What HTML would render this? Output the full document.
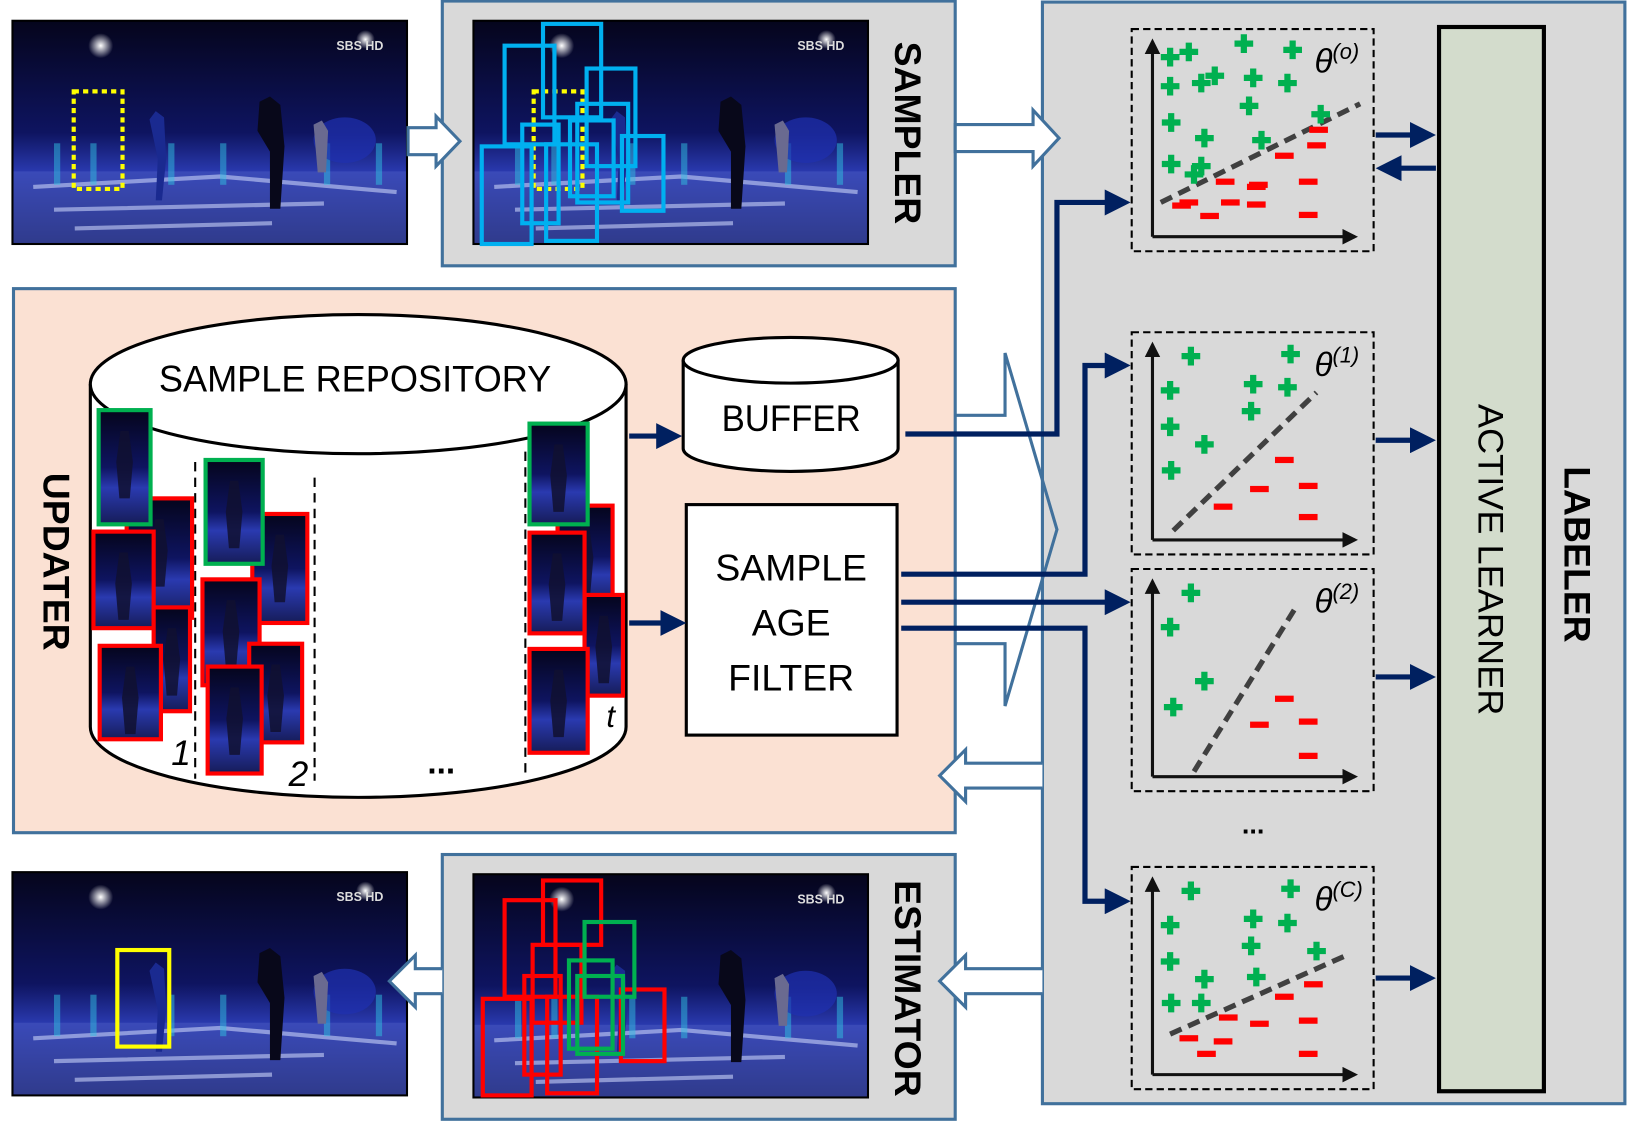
<!DOCTYPE html>
<html><head><meta charset="utf-8"><style>
html,body{margin:0;padding:0;background:#fff;}
svg{display:block;}
text{font-family:"Liberation Sans",sans-serif;}
</style></head><body>
<svg id="fig" width="1628" height="1139" viewBox="0 0 1568 1097" preserveAspectRatio="none" xmlns="http://www.w3.org/2000/svg">
<defs>
<linearGradient id="sky" x1="0" y1="0" x2="0" y2="1">
<stop offset="0" stop-color="#05051c"/><stop offset="0.5" stop-color="#0e1460"/><stop offset="0.68" stop-color="#2a3ab0"/><stop offset="1" stop-color="#161c58"/>
</linearGradient>
<radialGradient id="glow" cx="0.5" cy="0.5" r="0.5"><stop offset="0" stop-color="#ffffff"/><stop offset="1" stop-color="#ffffff" stop-opacity="0"/></radialGradient>
<marker id="ah" markerWidth="5" markerHeight="5" refX="4" refY="2.5" orient="auto" markerUnits="strokeWidth"><path d="M0,0 L5,2.5 L0,5 z" fill="#002060"/></marker>
<marker id="axh" markerWidth="5" markerHeight="5" refX="4" refY="2.5" orient="auto" markerUnits="strokeWidth"><path d="M0,0 L5,2.5 L0,5 z" fill="#111"/></marker>
</defs>

<rect x="1004" y="2" width="561" height="1061" fill="#d9d9d9" stroke="#41719c" stroke-width="3"/>
<rect x="426" y="1" width="494" height="255" fill="#d9d9d9" stroke="#41719c" stroke-width="3"/>
<rect x="426" y="823" width="494" height="255" fill="#d9d9d9" stroke="#41719c" stroke-width="3"/>
<rect x="13" y="278" width="907" height="524" fill="#fbe1d3" stroke="#41719c" stroke-width="3"/>

<g id="photos"></g>

<path d="M393,123 H420 V112 L443,136 L420,160 V149 H393 Z" fill="#fff" stroke="#41719c" stroke-width="3"/>
<path d="M920,120 H995 V106 L1020,133 L995,160 V146 H920 Z" fill="#fff" stroke="#41719c" stroke-width="3"/>
<path d="M920,400 H968 V340 L1018,510 L968,680 V620 H920" fill="none" stroke="#41719c" stroke-width="3"/>
<path d="M1004,735 H930 V722 L905,747 L930,772 V759 H1004" fill="#fff" stroke="#41719c" stroke-width="3"/>
<path d="M1004,933 H930 V920 L905,945 L930,970 V957 H1004" fill="#fff" stroke="#41719c" stroke-width="3"/>
<path d="M426,933 H400 V920 L375,945 L400,970 V957 H426" fill="#fff" stroke="#41719c" stroke-width="3"/>

<text transform="translate(862,128) rotate(90)" text-anchor="middle" font-size="36" font-weight="bold">SAMPLER</text>
<text transform="translate(862,952) rotate(90)" text-anchor="middle" font-size="36" font-weight="bold">ESTIMATOR</text>
<text transform="translate(42,541) rotate(90)" text-anchor="middle" font-size="36" font-weight="bold">UPDATER</text>
<text transform="translate(1507,534) rotate(90)" text-anchor="middle" font-size="36" font-weight="bold">LABELER</text>

<rect x="1386" y="26" width="101" height="1025" fill="#d3dccc" stroke="#000" stroke-width="4"/>
<text transform="translate(1424,539) rotate(90)" text-anchor="middle" font-size="34" textLength="300" lengthAdjust="spacingAndGlyphs">ACTIVE LEARNER</text>

<g>
<path d="M87,370 V700 A258,68 0 0 0 603,700 V370" fill="#fff" stroke="#000" stroke-width="3"/>
<ellipse cx="345" cy="370" rx="258" ry="67" fill="#fff" stroke="#000" stroke-width="3"/>
<text x="342" y="377" text-anchor="middle" font-size="36" textLength="378" lengthAdjust="spacingAndGlyphs">SAMPLE REPOSITORY</text>
<line x1="188" y1="445" x2="188" y2="750" stroke="#000" stroke-width="2" stroke-dasharray="9,6"/>
<line x1="303" y1="460" x2="303" y2="752" stroke="#000" stroke-width="2" stroke-dasharray="9,6"/>
<line x1="506" y1="435" x2="506" y2="745" stroke="#000" stroke-width="2" stroke-dasharray="9,6"/>
<g id="thumbs"></g>
<text x="165" y="737" font-size="34" font-style="italic" font-family="Liberation Serif">1</text>
<text x="278" y="757" font-size="34" font-style="italic" font-family="Liberation Serif">2</text>
<text x="584" y="700" font-size="30" font-style="italic" font-family="Liberation Serif">t</text>
<text x="425" y="745" text-anchor="middle" font-size="32" font-weight="bold">...</text>
</g>

<g>
<path d="M658,347 V432 A103.5,22 0 0 0 865,432 V347" fill="#fff" stroke="#000" stroke-width="3"/>
<ellipse cx="761.5" cy="347" rx="103.5" ry="22" fill="#fff" stroke="#000" stroke-width="3"/>
<text x="762" y="415" text-anchor="middle" font-size="36" textLength="134" lengthAdjust="spacingAndGlyphs">BUFFER</text>
</g>
<rect x="661" y="486" width="203" height="222" fill="#fff" stroke="#000" stroke-width="3"/>
<text x="762" y="559" text-anchor="middle" font-size="36" textLength="146" lengthAdjust="spacingAndGlyphs">SAMPLE</text>
<text x="762" y="612" text-anchor="middle" font-size="36">AGE</text>
<text x="762" y="665" text-anchor="middle" font-size="36">FILTER</text>

<g stroke="#002060" stroke-width="5" fill="none">
<path d="M606,420 H652" marker-end="url(#ah)"/>
<path d="M606,600 H656" marker-end="url(#ah)"/>
<path d="M872,418 H1018 V195 H1084" marker-end="url(#ah)"/>
<path d="M868,553 H1045 V352 H1084" marker-end="url(#ah)"/>
<path d="M868,580 H1084" marker-end="url(#ah)"/>
<path d="M868,605 H1045 V868 H1084" marker-end="url(#ah)"/>
<path d="M1325,130 H1378" marker-end="url(#ah)"/>
<path d="M1383,162 H1330" marker-end="url(#ah)"/>
<path d="M1325,424 H1378" marker-end="url(#ah)"/>
<path d="M1325,652 H1378" marker-end="url(#ah)"/>
<path d="M1325,942 H1378" marker-end="url(#ah)"/>
</g>
<text x="1207" y="803" text-anchor="middle" font-size="26" font-weight="bold">...</text>

<g id="plots"></g>
</svg>
<script>
const plotTops = [28, 320, 548, 835];
const plotLabels = ["o", "1", "2", "C"];
const plus0 = [[17,173],[35,178],[88,186],[135,180],[17,145],[47,148],[60,155],[97,153],[130,148],[93,126],[18,110],[50,95],[105,93],[162,118],[18,70],[47,68],[40,60]];
const minus0 = [[160,103],[158,88],[127,78],[102,50],[70,53],[35,33],[28,30],[55,20],[100,48],[150,53],[100,31],[150,21],[75,33]];
const line0 = [[8,33],[200,128]];
const plus1 = [[37,177],[133,179],[17,144],[97,150],[130,147],[95,124],[17,109],[50,92],[18,67]];
const minus1 = [[127,77],[150,52],[103,49],[68,32],[150,22]];
const line1 = [[20,9],[158,142]];
const plus2 = [[37,177],[17,144],[50,92],[20,67]];
const minus2 = [[127,75],[150,53],[103,50],[150,20]];
const line2 = [[40,5],[138,163]];
const plus3 = [[37,177],[133,179],[17,144],[97,150],[130,146],[95,124],[17,109],[50,92],[100,94],[158,119],[18,69],[47,69]];
const minus3 = [[155,87],[127,75],[150,52],[103,49],[73,55],[35,35],[68,32],[52,20],[150,20]];
const line3 = [[17,39],[187,115]];
const plusSets = [plus0, plus1, plus2, plus3];
const minusSets = [minus0, minus1, minus2, minus3];
const lineSets = [line0, line1, line2, line3];

const NS = "http://www.w3.org/2000/svg";
function mk(tag, attrs, parent) {
  const e = document.createElementNS(NS, tag);
  for (const k in attrs) e.setAttribute(k, attrs[k]);
  parent.appendChild(e);
  return e;
}
const plots = document.getElementById("plots");
plotTops.forEach((T, i) => {
  const ox = 1110, oy = T + 200;
  const sx = v => ox + v;
  const sy = v => oy - v;
  const g = mk("g", {}, plots);
  
  
  const frame = mk("rect", {x:1090, y:T, width:233, height:214, fill:"none", stroke:"#000", "stroke-width":2, "stroke-dasharray":"7,4"}, g);
  
  
  const ax = mk("path", {d:`M${ox},${oy} H1305`, stroke:"#111", "stroke-width":3, fill:"none", "marker-end":"url(#axh)"}, g);
  
  
  const ay = mk("path", {d:`M${ox},${oy} V${T+12}`, stroke:"#111", "stroke-width":3, fill:"none", "marker-end":"url(#axh)"}, g);
  
  
  const L = lineSets[i];
  const dl = mk("line", {x1:sx(L[0][0]), y1:sy(L[0][1]), x2:sx(L[1][0]), y2:sy(L[1][1]), stroke:"#404040", "stroke-width":5, "stroke-dasharray":"12,7"}, g);
  
  
  minusSets[i].forEach(p => {
    const m = mk("rect", {x:sx(p[0])-9, y:sy(p[1])-3, width:18, height:6, fill:"#ff0000"}, g);
    
    
  });
  plusSets[i].forEach(p => {
    const x = sx(p[0]), y = sy(p[1]);
    const pl = mk("path", {d:`M${x-9},${y} H${x+9} M${x},${y-9} V${y+9}`, stroke:"#00b050", "stroke-width":6}, g);
    
    
  });
  const t = mk("text", {x:1266, y:T+42, "font-size":32, "font-style":"italic", "font-family":"Liberation Serif"}, g);
  
  
  t.textContent = "θ";
  const s = mk("tspan", {dy:-13, "font-size":21}, t);
  s.textContent = "(" + plotLabels[i] + ")";
});

const photos = document.getElementById("photos");
function photo(x, y, name) {
  const g = mk("g", {}, photos);
  
  
  mk("rect", {x:x, y:y, width:380, height:215, fill:"url(#sky)", stroke:"#000", "stroke-width":2}, g);
  mk("rect", {x:x+1, y:y+145, width:378, height:69, fill:"#4a5ac0", opacity:0.5}, g);
  mk("path", {d:`M${x+20},${y+160} L${x+200},${y+150} L${x+370},${y+165} M${x+40},${y+182} L${x+300},${y+176} M${x+60},${y+200} L${x+250},${y+195}`, stroke:"#c8d2f8", "stroke-width":4, opacity:0.6, fill:"none"}, g);
  [40,75,150,200,300,350].forEach(dx => mk("rect", {x:x+dx, y:y+118, width:6, height:40, fill:"#30c0e0", opacity:0.5}, g));
  mk("circle", {cx:x+85, cy:y+24, r:12, fill:"url(#glow)"}, g);
  mk("circle", {cx:x+340, cy:y+18, r:9, fill:"url(#glow)"}, g);
  mk("ellipse", {cx:x+320, cy:y+115, rx:30, ry:22, fill:"#2030b0", opacity:0.7}, g);
  mk("path", {d:`M${x+132},${y+95} l6,-8 l8,6 l2,40 l-4,40 l-6,0 l2,-40 z`, fill:"#1a2a90"}, g);
  mk("path", {d:`M${x+238},${y+78} l10,-5 l10,8 l4,40 l-4,60 l-10,0 l0,-55 l-12,-20 z`, fill:"#08081a"}, g);
  mk("path", {d:`M${x+290},${y+100} l8,-4 l6,10 l-2,40 l-8,0 z`, fill:"#6a6a90"}, g);
  const tx = mk("text", {x:x+312, y:y+28, "font-size":12, fill:"#ddd", "font-weight":"bold"}, g);
  tx.textContent = "SBS HD";
}
photo(12, 20, "input-frame");
photo(456, 20, "sampler-frame");
photo(12, 840, "output-frame");
photo(456, 842, "estimator-frame");

function box(x1, y1, x2, y2, color, w, dash, name) {
  const r = mk("rect", {x:x1, y:y1, width:x2-x1, height:y2-y1, fill:"none", stroke:color, "stroke-width":w}, photos);
  if (dash) r.setAttribute("stroke-dasharray", dash);
  
  
}
box(71, 88, 118, 182, "#ffff00", 4, "5,4", "previous-target-box");
box(514, 88, 561, 182, "#ffff00", 4, "5,4", "previous-target-box");
[[523,23,579,113],[486,44,534,139],[565,66,612,160],[556,100,605,195],[549,116,591,189],[503,120,538,215],[599,131,639,203],[464,141,512,235],[526,139,575,232]]
  .forEach(b => box(b[0], b[1], b[2], b[3], "#00b0f0", 4, null, "candidate-sample-box"));
[[486,867,535,960],[523,848,579,910],[513,910,560,985],[505,940,540,1035],[465,962,512,1055],[527,960,575,1053],[598,953,640,1022]]
  .forEach(b => box(b[0], b[1], b[2], b[3], "#ff0000", 4, null, "negative-estimate-box"));
[[563,888,611,960],[548,925,590,1010],[556,940,600,1015]]
  .forEach(b => box(b[0], b[1], b[2], b[3], "#00b050", 4, null, "positive-estimate-box"));
box(113, 915, 163, 1008, "#ffff00", 4, null, "estimated-target-box");

const thumbs = document.getElementById("thumbs");
const thumbList = [
  [122,480,185,595,"r"],[90,512,148,605,"r"],[148,585,183,685,"r"],[96,622,155,712,"r"],[95,395,145,505,"g"],
  [243,495,296,600,"r"],[195,558,250,660,"r"],[240,620,291,715,"r"],[200,642,252,745,"r"],[198,443,253,543,"g"],
  [537,487,590,585,"r"],[563,573,600,670,"r"],[510,513,563,610,"r"],[510,625,566,725,"r"],[510,408,566,505,"g"]
];
thumbList.forEach(t => {
  const g = mk("g", {}, thumbs);
  
  
  mk("rect", {x:t[0], y:t[1], width:t[2]-t[0], height:t[3]-t[1], fill:"url(#sky)", stroke:t[4] === "g" ? "#00b050" : "#ff0000", "stroke-width":4}, g);
  const cx = (t[0] + t[2]) / 2;
  mk("path", {d:`M${cx-4},${t[1]+20} l8,0 l4,30 l-3,35 l-10,0 l-3,-35 z`, fill:"#101030", opacity:0.85}, g);
});
</script>
</body></html>
